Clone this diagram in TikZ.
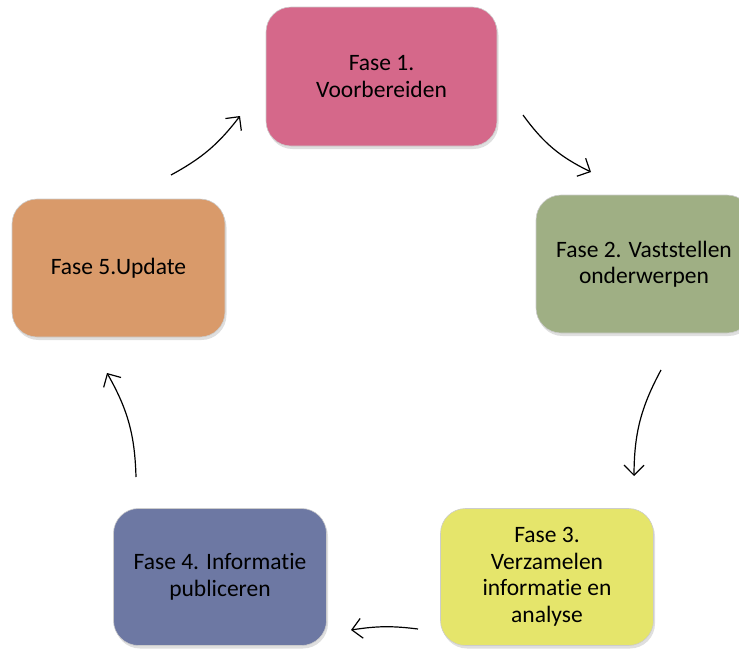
\documentclass[tikz,border=0pt]{standalone}
\usepackage{fontspec}
\setmainfont{Carlito}[Ligatures={NoCommon}]
\usetikzlibrary{arrows.meta,shadows}
\definecolor{cpink}{HTML}{D5688A}
\definecolor{cgreen}{HTML}{9FAF84}
\definecolor{cyellow}{HTML}{E5E56B}
\definecolor{cblue}{HTML}{6D78A3}
\definecolor{corange}{HTML}{D99A6A}
\tikzset{
  phasebox/.style={draw=black!20, line width=0.6pt, rounded corners=25pt,
    minimum width=213pt, minimum height=137pt, align=center,
    font=\fontsize{23.5}{26.5}\selectfont, text=black,
    drop shadow={opacity=0.25, shadow xshift=1.5pt, shadow yshift=-3pt}},
  flow/.style={line width=1.2pt, -{Straight Barb[length=10pt,width=20pt,line width=1.2pt]}, bend left=#1},
  flow/.default=18
}
\begin{document}
\begin{tikzpicture}[x=1pt,y=-1pt]
\useasboundingbox (0,0) rectangle (739,648);
\clip (0,0) rectangle (739,648);
\node[phasebox, fill=cpink, minimum width=231pt, minimum height=139pt] (f1) at (381.5,76.5) {Fase 1.\\Voorbereiden};
\node[phasebox, fill=cgreen, minimum width=216pt, minimum height=138pt] (f2) at (644,264) {Fase 2. Vaststellen\\onderwerpen};
\node[phasebox, fill=cyellow] (f3) at (547,577) {Fase 3.\\Verzamelen\\informatie en\\analyse};
\node[phasebox, fill=cblue] (f4) at (220,577) {Fase 4. Informatie\\publiceren};
\node[phasebox, fill=corange, minimum height=138pt] (f5) at (118.5,268) {Fase 5.Update};
\coordinate (a1s) at (523,115); \coordinate (a1e) at (591,172);
\coordinate (a2s) at (661,370); \coordinate (a2e) at (634,476);
\coordinate (a3s) at (418,629); \coordinate (a3e) at (351,630);
\coordinate (a4s) at (136,477); \coordinate (a4e) at (107,373);
\coordinate (a5s) at (171,175); \coordinate (a5e) at (240,116);
\draw[flow=-14] (a1s) to (a1e);
\draw[flow=-14] (a2s) to (a2e);
\draw[flow=-8] (a3s) to (a3e);
\draw[flow=-14] (a4s) to (a4e);
\draw[flow=-12] (a5s) to (a5e);
\end{tikzpicture}
\end{document}
